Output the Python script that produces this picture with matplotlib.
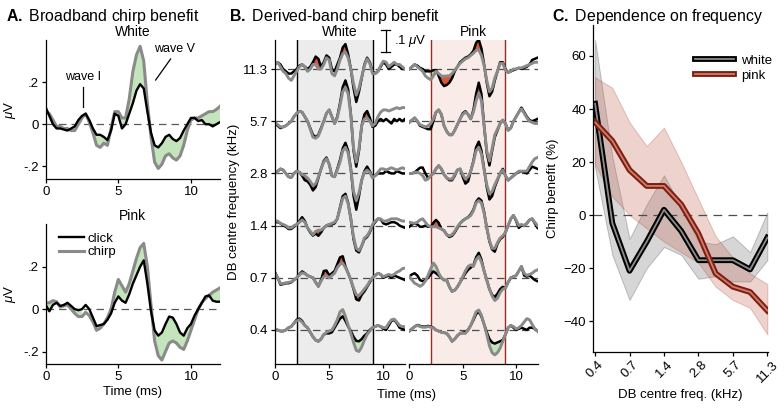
import numpy as np
import matplotlib.pyplot as plt
from matplotlib.legend_handler import HandlerTuple

plt.rcParams['font.family'] = ['Liberation Sans', 'DejaVu Sans']
plt.rcParams['mathtext.fontset'] = 'custom'
plt.rcParams['mathtext.rm'] = 'Liberation Sans'
plt.rcParams['mathtext.it'] = 'Liberation Sans:italic'
plt.rcParams['mathtext.bf'] = 'Liberation Sans:bold'
plt.rcParams['font.size'] = 9.5
plt.rcParams['axes.linewidth'] = 0.9
plt.rcParams['xtick.major.width'] = 0.9
plt.rcParams['ytick.major.width'] = 0.9
plt.rcParams['xtick.major.size'] = 3
plt.rcParams['ytick.major.size'] = 3

GRAY = '#8a8a8a'
GREEN = '#c4e4bb'
RED = '#d9553a'

# ---- panel A: broadband responses (uV), 0.25 ms steps from 0 to 12 ms
tA = np.arange(49) * 0.25
white_click = [0.08, 0.04, 0.0, -0.02, -0.02, -0.025, -0.03, -0.02, -0.01, 0.02, 0.04, 0.05,
               0.02, -0.02, -0.05, -0.05, -0.06, -0.075, -0.03, 0.05, 0.04, -0.02, 0.0, 0.05,
               0.1, 0.16, 0.19, 0.17, 0.06, -0.04, -0.1, -0.11, -0.09, -0.06, -0.05, -0.07,
               -0.08, -0.065, -0.03, 0.0, 0.03, 0.03, 0.015, 0.02, 0.0, 0.0, -0.01, 0.0, 0.01]
white_chirp = [0.06, 0.05, 0.02, -0.01, -0.01, -0.02, -0.02, -0.03, -0.03, 0.0, 0.03, 0.05,
               0.01, -0.04, -0.1, -0.11, -0.09, -0.1, -0.02, 0.06, 0.06, 0.03, 0.03, 0.12,
               0.25, 0.33, 0.37, 0.3, 0.1, -0.06, -0.18, -0.21, -0.19, -0.15, -0.14, -0.16,
               -0.17, -0.15, -0.1, -0.03, 0.02, 0.03, 0.03, 0.04, 0.05, 0.06, 0.06, 0.07, 0.085]
pink_click = [0.02, -0.01, 0.02, 0.03, 0.015, 0.02, 0.03, 0.015, 0.0, -0.005, 0.0, 0.02,
              0.0, -0.04, -0.08, -0.075, -0.07, -0.05, -0.02, 0.03, 0.06, 0.04, 0.03, 0.07,
              0.12, 0.16, 0.2, 0.23, 0.12, -0.01, -0.1, -0.125, -0.11, -0.07, -0.035, -0.04,
              -0.07, -0.11, -0.125, -0.09, -0.07, -0.03, 0.0, 0.03, 0.06, 0.065, 0.04, 0.035, 0.035]
pink_chirp = [0.03, 0.03, 0.04, 0.035, 0.01, 0.015, 0.02, 0.0, -0.02, -0.035, -0.035, -0.015,
              -0.03, -0.06, -0.1, -0.09, -0.07, -0.04, 0.0, 0.08, 0.14, 0.11, 0.08, 0.12,
              0.18, 0.24, 0.29, 0.31, 0.2, 0.02, -0.15, -0.22, -0.24, -0.2, -0.16, -0.15,
              -0.16, -0.18, -0.19, -0.15, -0.1, -0.05, 0.0, 0.03, 0.05, 0.065, 0.08, 0.09, 0.1]

# ---- panel B: derived-band responses (uV), 0.25 ms steps, rows 0.4 ... 11.3 kHz
tB = np.arange(49) * 0.25
band_labels = ['0.4', '0.7', '1.4', '2.8', '5.7', '11.3']
db_white_click = [
    [0.0, 0.0, -0.005, -0.005, 0.0, 0.01, 0.015, 0.03, 0.045, 0.05, 0.04, 0.02,
     0.01, -0.01, -0.03, -0.045, -0.05, -0.04, -0.02, -0.015, -0.015, -0.01, 0.01, 0.03,
     0.05, 0.06, 0.04, 0.015, -0.005, -0.03, -0.048, -0.05, -0.04, -0.025, -0.015, 0.0,
     0.01, 0.015, 0.02, 0.015, 0.005, 0.0, 0.02, 0.04, 0.044, 0.03, 0.01, 0.005, 0.0],
    [0.024, 0.0, -0.03, -0.028, -0.024, -0.024, -0.02, -0.01, 0.0, 0.015, 0.028, 0.02,
     0.01, 0.005, 0.0, -0.02, -0.038, -0.01, 0.03, 0.032, 0.01, 0.02, 0.03, 0.06,
     0.09, 0.095, 0.05, 0.02, -0.01, -0.05, -0.095, -0.1, -0.075, -0.06, -0.04, -0.02,
     0.0, 0.01, 0.02, 0.015, 0.0, 0.005, 0.01, 0.0, 0.01, 0.005, 0.0, -0.005, -0.01],
    [0.015, 0.015, 0.01, 0.0, -0.005, -0.015, -0.015, -0.005, 0.005, 0.02, 0.037, 0.02,
     -0.01, -0.03, -0.044, -0.035, -0.045, -0.03, -0.01, 0.0, 0.005, 0.005, 0.01, 0.03,
     0.08, 0.13, 0.14, 0.1, 0.03, -0.06, -0.11, -0.118, -0.09, -0.06, -0.05, -0.03,
     0.0, 0.015, 0.03, 0.028, 0.01, 0.005, 0.01, 0.015, 0.015, 0.01, 0.0, -0.005, -0.01],
    [0.0, 0.01, 0.02, 0.015, 0.0, -0.015, -0.018, 0.0, 0.01, 0.005, -0.01, -0.03,
     -0.035, -0.05, -0.075, -0.06, -0.02, 0.02, 0.055, 0.07, 0.04, -0.01, -0.015, 0.02,
     0.06, 0.11, 0.135, 0.1, 0.02, -0.1, -0.16, -0.1, -0.03, 0.01, 0.03, 0.01,
     -0.015, -0.01, 0.0, 0.0, 0.0, 0.01, 0.005, 0.0, 0.0, 0.01, 0.005, 0.0, 0.0],
    [-0.01, -0.02, -0.03, -0.025, -0.02, -0.01, 0.0, 0.02, 0.035, 0.044, 0.04, 0.02,
     0.0, -0.03, -0.06, -0.07, -0.06, -0.03, 0.0, 0.035, 0.05, 0.02, -0.01, 0.02,
     0.08, 0.15, 0.18, 0.14, 0.03, -0.13, -0.2, -0.13, -0.02, 0.03, 0.045, 0.015,
     -0.025, -0.02, 0.0, 0.01, 0.0, 0.01, 0.0, -0.01, 0.01, 0.0, 0.01, 0.0, 0.01],
    [0.02, 0.03, 0.02, 0.0, -0.01, -0.02, -0.02, -0.01, 0.0, 0.015, 0.02, 0.01,
     0.0, 0.01, 0.03, 0.055, 0.045, 0.01, 0.03, 0.06, 0.05, 0.0, -0.01, 0.02,
     0.05, 0.095, 0.11, 0.065, 0.0, -0.085, -0.145, -0.1, -0.04, 0.02, 0.05, 0.03,
     -0.01, -0.02, -0.01, 0.01, 0.03, 0.02, 0.0, 0.01, 0.02, 0.02, 0.01, 0.0, 0.0],
]
db_white_chirp = [
    [0.0, 0.0, -0.005, -0.005, 0.0, 0.01, 0.015, 0.03, 0.04, 0.045, 0.035, 0.02,
     0.01, -0.01, -0.03, -0.045, -0.05, -0.04, -0.02, -0.01, -0.005, 0.0, 0.02, 0.045,
     0.08, 0.09, 0.06, 0.02, -0.015, -0.055, -0.09, -0.095, -0.075, -0.045, -0.02, -0.005,
     0.01, 0.015, 0.02, 0.015, 0.01, 0.01, 0.03, 0.045, 0.048, 0.035, 0.02, 0.015, 0.015],
    [0.02, 0.0, -0.025, -0.025, -0.022, -0.02, -0.018, -0.008, 0.0, 0.012, 0.022, 0.018,
     0.01, 0.005, 0.0, -0.02, -0.038, -0.015, 0.005, 0.01, 0.0, 0.01, 0.02, 0.045,
     0.06, 0.065, 0.045, 0.02, -0.01, -0.045, -0.075, -0.078, -0.065, -0.05, -0.035, -0.015,
     0.0, 0.01, 0.02, 0.015, 0.005, 0.01, 0.015, 0.01, 0.015, 0.025, 0.03, 0.04, 0.043],
    [0.02, 0.02, 0.01, 0.005, 0.0, -0.01, -0.01, 0.0, 0.005, 0.015, 0.025, 0.015,
     -0.01, -0.025, -0.04, -0.025, -0.02, -0.02, -0.01, 0.0, 0.005, 0.01, 0.015, 0.03,
     0.075, 0.12, 0.13, 0.095, 0.03, -0.05, -0.1, -0.11, -0.09, -0.055, -0.045, -0.025,
     0.005, 0.02, 0.03, 0.03, 0.02, 0.02, 0.025, 0.03, 0.03, 0.03, 0.025, 0.02, 0.02],
    [0.0, 0.01, 0.02, 0.015, 0.0, -0.015, -0.018, 0.0, 0.01, 0.005, -0.005, -0.01,
     -0.02, -0.035, -0.054, -0.045, -0.015, 0.02, 0.05, 0.065, 0.04, -0.01, -0.015, 0.015,
     0.05, 0.1, 0.115, 0.09, 0.015, -0.08, -0.12, -0.085, -0.03, 0.005, 0.015, 0.005,
     -0.02, -0.01, 0.005, 0.02, 0.02, 0.015, 0.02, 0.025, 0.02, 0.015, 0.02, 0.025, 0.02],
    [-0.005, -0.015, -0.025, -0.025, -0.02, -0.01, 0.0, 0.02, 0.035, 0.044, 0.04, 0.02,
     0.0, -0.035, -0.07, -0.075, -0.065, -0.035, 0.0, 0.035, 0.05, 0.02, -0.01, 0.015,
     0.07, 0.13, 0.15, 0.12, 0.025, -0.12, -0.18, -0.12, -0.02, 0.01, 0.015, 0.0,
     -0.02, -0.01, 0.02, 0.04, 0.05, 0.05, 0.045, 0.05, 0.055, 0.06, 0.055, 0.06, 0.06],
    [0.02, 0.03, 0.01, -0.01, -0.02, -0.04, -0.05, -0.03, -0.01, 0.01, 0.02, 0.01,
     -0.01, 0.0, 0.02, 0.02, 0.0, 0.0, 0.02, 0.05, 0.04, -0.02, -0.03, 0.0,
     0.04, 0.068, 0.075, 0.05, 0.0, -0.065, -0.115, -0.085, -0.035, 0.015, 0.045, 0.025,
     -0.02, -0.02, -0.01, 0.015, 0.035, 0.03, 0.01, 0.02, 0.03, 0.02, 0.02, 0.01, 0.0],
]
db_pink_click = [
    [-0.005, 0.005, 0.015, 0.022, 0.018, 0.015, 0.015, 0.018, 0.015, 0.01, 0.0, -0.005,
     -0.01, -0.012, -0.015, -0.03, -0.05, -0.04, -0.025, -0.015, -0.012, -0.01, 0.0, 0.02,
     0.044, 0.07, 0.08, 0.06, 0.025, -0.01, -0.04, -0.055, -0.06, -0.055, -0.05, -0.044,
     -0.02, 0.01, 0.02, 0.01, 0.0, 0.005, 0.01, 0.005, 0.0, 0.01, 0.01, 0.005, -0.005],
    [0.005, 0.015, 0.02, 0.01, -0.01, -0.015, -0.01, 0.0, 0.015, 0.028, 0.02, 0.01,
     0.0, -0.01, -0.01, -0.04, -0.06, -0.055, -0.04, -0.02, 0.0, 0.02, 0.035, 0.045,
     0.055, 0.09, 0.11, 0.08, 0.03, -0.01, -0.05, -0.075, -0.085, -0.07, -0.05, -0.04,
     -0.045, -0.02, 0.0, 0.005, 0.01, 0.03, 0.05, 0.01, 0.005, 0.01, 0.0, -0.01, -0.015],
    [-0.005, 0.005, 0.01, 0.005, -0.005, -0.005, 0.0, -0.005, -0.005, 0.012, 0.025, 0.012,
     -0.015, -0.022, -0.04, -0.05, -0.045, -0.03, -0.01, 0.01, 0.022, 0.03, 0.037, 0.05,
     0.07, 0.105, 0.12, 0.11, 0.06, -0.01, -0.07, -0.105, -0.115, -0.08, -0.06, -0.05,
     -0.03, 0.0, 0.03, 0.045, 0.02, -0.01, 0.0, 0.0, 0.01, 0.025, 0.03, 0.01, -0.01],
    [0.0, 0.0, 0.005, 0.015, 0.025, 0.026, 0.0, -0.02, -0.01, 0.0, 0.02, 0.034,
     0.02, -0.005, -0.02, -0.03, -0.03, -0.01, 0.015, 0.02, -0.015, -0.045, -0.035, 0.01,
     0.055, 0.115, 0.14, 0.1, 0.02, -0.06, -0.115, -0.1, -0.06, -0.03, 0.0, 0.02,
     -0.01, -0.03, -0.02, -0.01, 0.0, 0.005, 0.01, 0.005, 0.0, 0.015, 0.03, 0.025, 0.02],
    [-0.005, 0.005, 0.015, 0.0, -0.02, -0.025, -0.03, -0.035, -0.035, 0.0, 0.04, 0.05,
     0.03, -0.02, -0.045, -0.06, -0.06, -0.04, -0.015, 0.01, 0.035, 0.044, 0.03, 0.01,
     0.05, 0.12, 0.17, 0.12, -0.02, -0.14, -0.195, -0.13, -0.07, -0.04, -0.01, 0.005,
     -0.01, -0.04, -0.03, 0.0, 0.02, 0.04, 0.06, 0.04, 0.02, 0.005, 0.0, 0.005, 0.01],
    [0.0, 0.01, 0.02, 0.015, 0.005, 0.0, -0.01, -0.01, -0.01, -0.005, -0.005, -0.03,
     -0.06, -0.075, -0.07, -0.06, -0.04, -0.01, 0.01, 0.03, 0.04, 0.05, 0.055, 0.065,
     0.08, 0.115, 0.13, 0.09, 0.02, -0.06, -0.12, -0.1, -0.05, -0.01, 0.03, 0.03,
     0.0, -0.015, -0.01, -0.005, 0.0, 0.005, 0.0, 0.005, 0.01, 0.02, 0.04, 0.045, 0.05],
]
db_pink_chirp = [
    [-0.005, 0.005, 0.015, 0.02, 0.015, 0.012, 0.012, 0.015, 0.012, 0.008, 0.0, -0.005,
     -0.01, -0.012, -0.015, -0.03, -0.05, -0.04, -0.025, -0.015, -0.015, -0.015, 0.0, 0.02,
     0.05, 0.08, 0.088, 0.065, 0.025, -0.02, -0.07, -0.1, -0.11, -0.1, -0.08, -0.05,
     -0.02, 0.01, 0.02, 0.015, 0.005, 0.01, 0.02, 0.035, 0.05, 0.045, 0.025, 0.005, -0.005],
    [0.005, -0.01, -0.024, -0.03, -0.038, -0.03, -0.015, 0.01, 0.04, 0.065, 0.05, 0.02,
     0.0, -0.01, -0.01, -0.04, -0.06, -0.055, -0.04, -0.02, 0.005, 0.03, 0.05, 0.057,
     0.05, 0.08, 0.094, 0.07, 0.03, -0.01, -0.05, -0.08, -0.1, -0.09, -0.065, -0.05,
     -0.045, -0.02, 0.0, 0.005, 0.01, 0.03, 0.05, 0.02, 0.01, 0.015, 0.02, 0.03, 0.035],
    [0.015, 0.012, 0.01, 0.015, 0.025, 0.03, 0.015, 0.0, -0.005, -0.005, -0.005, -0.01,
     -0.015, -0.022, -0.04, -0.045, -0.04, -0.025, -0.005, 0.01, 0.02, 0.03, 0.035, 0.045,
     0.065, 0.1, 0.11, 0.1, 0.055, -0.01, -0.065, -0.1, -0.1, -0.075, -0.055, -0.045,
     -0.03, 0.0, 0.03, 0.045, 0.025, 0.0, 0.005, 0.0, 0.01, 0.025, 0.03, 0.015, 0.0],
    [0.0, 0.0, 0.005, 0.005, 0.0, -0.01, -0.03, -0.025, -0.01, 0.0, 0.02, 0.035,
     0.02, -0.005, -0.02, -0.025, -0.025, -0.005, 0.015, 0.02, -0.005, -0.025, -0.015, 0.01,
     0.05, 0.1, 0.115, 0.085, 0.015, -0.05, -0.09, -0.08, -0.05, -0.025, 0.0, 0.015,
     -0.01, -0.03, -0.02, -0.01, 0.0, 0.01, 0.01, 0.01, 0.01, 0.03, 0.05, 0.065, 0.07],
    [-0.005, 0.005, 0.015, 0.0, -0.015, -0.02, -0.025, -0.02, -0.01, 0.01, 0.04, 0.05,
     0.03, -0.02, -0.045, -0.06, -0.06, -0.04, -0.015, 0.01, 0.03, 0.04, 0.03, 0.01,
     0.04, 0.09, 0.125, 0.09, -0.02, -0.13, -0.175, -0.12, -0.06, -0.035, -0.01, 0.005,
     -0.01, -0.04, -0.03, 0.0, 0.02, 0.04, 0.055, 0.035, 0.015, 0.0, -0.005, -0.01, -0.01],
    [0.0, 0.01, 0.02, 0.01, 0.0, -0.01, -0.03, -0.04, -0.047, -0.03, -0.01, -0.02,
     -0.03, -0.032, -0.03, -0.03, -0.02, -0.005, 0.01, 0.025, 0.035, 0.045, 0.05, 0.06,
     0.07, 0.082, 0.085, 0.06, 0.015, -0.05, -0.1, -0.085, -0.04, -0.01, 0.025, 0.025,
     -0.005, -0.015, -0.01, 0.0, 0.0, 0.005, 0.005, 0.01, 0.015, 0.02, 0.025, 0.03, 0.03],
]
row_gap = 0.23

# ---- panel C: chirp benefit (%) at half-octave steps
freq_ticks = ['0.4', '0.7', '1.4', '2.8', '5.7', '11.3']
octave = np.arange(11) * 0.5
white_mean = [42, -3, -21, -10, 2, -6, -17, -17, -17, -20.5, -8.5]
white_hi = [66, 22, -9, 4, 15, 3, -10, -11, -8, -14, 1]
white_lo = [18, -15, -32, -20, -12, -15, -24, -23, -25, -25, -17]
pink_mean = [35, 28, 17, 11, 11, 4, -7, -22, -27, -29, -36]
pink_hi = [52, 48, 35, 26, 33, 20, 6, -8, -16, -22, -26]
pink_lo = [19, 7, 0, -5, -10, -14, -18, -27, -32, -35, -45]

fig = plt.figure(figsize=(7.84, 4.12), dpi=100)


def clean(ax):
    ax.spines['top'].set_visible(False)
    ax.spines['right'].set_visible(False)
    ax.tick_params(direction='out', pad=2)


def broadband(ax, click, chirp, title):
    click = np.array(click)
    chirp = np.array(chirp)
    ax.plot([0, 12], [0, 0], ls=(0, (6, 4)), color='0.35', lw=0.9)
    ax.fill_between(tA, click, chirp, where=np.abs(chirp) > np.abs(click),
                    color=GREEN, lw=0, interpolate=True)
    ax.plot(tA, chirp, color=GRAY, lw=2.2, solid_joinstyle='round')
    ax.plot(tA, click, color='k', lw=1.7, solid_joinstyle='round')
    ax.set_xlim(0, 12)
    ax.set_ylim(-0.26, 0.4)
    ax.set_xticks([0, 5, 10])
    ax.set_yticks([-0.2, 0, 0.2])
    ax.set_yticklabels(['-.2', '0', '.2'])
    ax.set_ylabel(r'$\mu$V', labelpad=4)
    ax.set_title(title, fontsize=10, pad=3)
    clean(ax)


axA1 = fig.add_axes([0.0583, 0.5655, 0.2223, 0.3374])
broadband(axA1, white_click, white_chirp, 'White')
axA1.plot([2.6, 2.6], [0.08, 0.175], color='k', lw=0.9)
axA1.text(2.6, 0.225, 'wave I', ha='center', va='center', fontsize=9)
axA1.plot([7.57, 8.6], [0.21, 0.31], color='k', lw=0.9)
axA1.text(8.9, 0.355, 'wave V', ha='center', va='center', fontsize=9)

axA2 = fig.add_axes([0.0583, 0.1158, 0.2223, 0.3398])
broadband(axA2, pink_click, pink_chirp, 'Pink')
axA2.set_xlabel('Time (ms)', labelpad=2)
h_chirp, h_click = axA2.get_lines()[1:3]
axA2.legend([h_click, h_chirp], ['click', 'chirp'], loc='upper left', frameon=False,
            bbox_to_anchor=(52 / 784, 1 - 226 / 412), bbox_transform=fig.transFigure,
            handlelength=1.9, handletextpad=0.3, labelspacing=0.1, borderpad=0.0)


def derived(ax, clicks, chirps, shade, edge):
    ax.axvspan(2, 9, color=shade, lw=0, zorder=0)
    ax.axvline(2, color=edge, lw=1.0)
    ax.axvline(9, color=edge, lw=1.0)
    win = (tB >= 2) & (tB <= 9)
    for i in range(6):
        off = i * row_gap
        c = np.array(clicks[i])
        h = np.array(chirps[i])
        ax.plot([0, 12], [off, off], ls=(0, (6, 4)), color='0.3', lw=0.9)
        ax.fill_between(tB, off + c, off + h, where=win & (np.abs(h) > np.abs(c)),
                        color=GREEN, lw=0, interpolate=True)
        ax.fill_between(tB, off + c, off + h, where=win & (np.abs(c) >= np.abs(h)),
                        color=RED, lw=0, interpolate=True)
        ax.plot(tB, off + c, color='k', lw=1.8, solid_joinstyle='round')
        ax.plot(tB, off + h, color=GRAY, lw=2.1, solid_joinstyle='round')
    ax.set_xlim(0, 12)
    ax.set_ylim(-0.15, 1.278)
    ax.set_xticks([0, 5, 10])
    clean(ax)


axBw = fig.add_axes([0.3508, 0.1165, 0.1658, 0.7864])
derived(axBw, db_white_click, db_white_chirp, '#ececec', 'k')
axBw.set_yticks(np.arange(6) * row_gap)
axBw.set_yticklabels(band_labels)
axBw.set_ylabel('DB centre frequency (kHz)', labelpad=2)
axBw.set_title('White', fontsize=10, pad=3)
top = 5 * row_gap
axBw.plot([10.22, 10.22], [top + 0.074, top + 0.174], color='k', lw=0.9, clip_on=False)
axBw.plot([9.8, 10.65], [top + 0.074, top + 0.074], color='k', lw=0.9, clip_on=False)
axBw.plot([9.8, 10.65], [top + 0.174, top + 0.174], color='k', lw=0.9, clip_on=False)
axBw.text(11.0, top + 0.122, r'.1 $\mu$V', va='center', ha='left', fontsize=9.5, zorder=10)

axBp = fig.add_axes([0.5221, 0.1165, 0.1635, 0.7864])
axBp.patch.set_visible(False)
derived(axBp, db_pink_click, db_pink_chirp, '#f8ebe8', '#9b2a1f')
axBp.spines['left'].set_visible(False)
axBp.set_yticks([])
axBp.set_title('Pink', fontsize=10, pad=3)
fig.text(406 / 784, 1 - 395 / 412, 'Time (ms)', ha='center', va='center', fontsize=9.5)

# ---- panel C
axC = fig.add_axes([0.7564, 0.1464, 0.2232, 0.793])
axC.fill_between(octave, white_lo, white_hi, facecolor='0.55', alpha=0.35,
                 edgecolor='0.35', lw=0.7)
axC.fill_between(octave, pink_lo, pink_hi, facecolor='#c46a5a', alpha=0.3,
                 edgecolor='#b0503f', lw=0.7)
axC.plot([-0.06, 5.02], [0, 0], ls=(0, (7, 5)), color='0.3', lw=0.9)
w_out, = axC.plot(octave, white_mean, color='k', lw=4.2)
w_in, = axC.plot(octave, white_mean, color='0.55', lw=1.3)
p_out, = axC.plot(octave, pink_mean, color='#7a1f12', lw=4.2)
p_in, = axC.plot(octave, pink_mean, color='#d47c6a', lw=1.3)
axC.set_xlim(-0.06, 5.02)
axC.set_ylim(-51.5, 71.7)
axC.set_xticks(np.arange(6))
axC.set_xticklabels(freq_ticks, rotation=45, ha='center')
axC.set_yticks([-40, -20, 0, 20, 40, 60])
axC.set_xlabel('DB centre freq. (kHz)', labelpad=3)
axC.set_ylabel('Chirp benefit (%)', labelpad=3)
clean(axC)
axC.legend([(w_out, w_in), (p_out, p_in)], ['white', 'pink'],
           handler_map={tuple: HandlerTuple(ndivide=1)},
           loc='upper left', frameon=False, borderpad=0.0,
           bbox_to_anchor=(688 / 784, 1 - 48 / 412), bbox_transform=fig.transFigure,
           handlelength=3.0, handletextpad=0.5, labelspacing=0.2)

# ---- panel letters / titles
fig.text(6 / 784, 1 - 16.5 / 412, r'$\bf{A.}$ Broadband chirp benefit', fontsize=11.4, va='center')
fig.text(229 / 784, 1 - 16.5 / 412, r'$\bf{B.}$ Derived-band chirp benefit', fontsize=11.4, va='center')
fig.text(552 / 784, 1 - 16.5 / 412, r'$\bf{C.}$ Dependence on frequency', fontsize=11.4, va='center')

fig.savefig('out.png', dpi=100)
